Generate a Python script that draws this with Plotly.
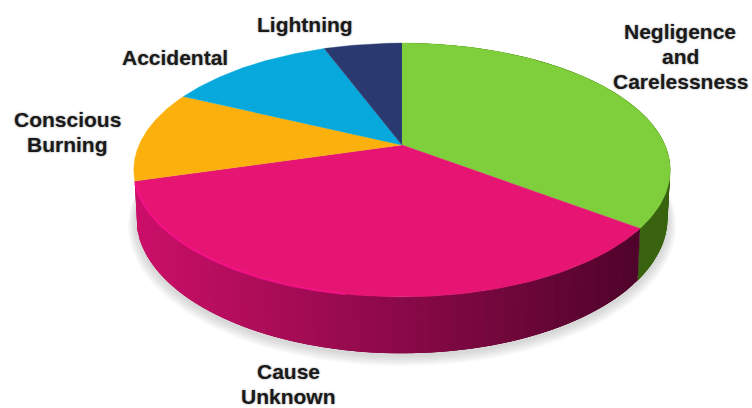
import numpy as np
import plotly.graph_objects as go

categories = ["Negligence<br>and<br>Carelessness", "Cause<br>Unknown", "Conscious<br>Burning", "Accidental", "Lightning"]
values = [35.3, 35.2, 11.6, 12.2, 5.7]
top_colors = ["#7FCF3C", "#E61573", "#FBB00E", "#07A8DC", "#2A3A70"]
# only the first two slices show a side wall
side_left = ["#4A7C1A", "#CC1069"]
side_right = ["#39630F", "#50042B"]
label_x = [680, 288, 67, 175, 305]
label_y = [31, 371, 119, 57, 24]
LINE_GAP = 25

W, H = 752, 408
CX, CY = 402, 145
R, S, K, D = 263, 122, 0.197, 46.5


def ring(theta, depth=0.0, scale=1.0):
    u, v = np.sin(theta), -np.cos(theta)
    w = 1 - K * v
    return CX + R * scale * u / w, CY + (S * scale * v + depth) / w


def hex_rgb(c):
    return np.array([int(c[i:i + 2], 16) for i in (1, 3, 5)], float)


def mix(a, b, t):
    r = hex_rgb(a) * (1 - t) + hex_rgb(b) * t
    return "rgb(%d,%d,%d)" % tuple(r)


fig = go.Figure()


def poly(x, y, color, line=0.0):
    fig.add_trace(go.Scatter(x=x, y=y, mode="lines", fill="toself", fillcolor=color,
                             line=dict(color=color, width=line), hoverinfo="skip", showlegend=False))


# soft ground shadow
full = np.linspace(0, 2 * np.pi, 240)
for i in range(7, 0, -1):
    x, y = ring(full, D + 1.5 + i * 0.7, 0.99 + i * 0.0045)
    poly(x, y, "rgba(120,120,120,0.045)", 0)

# slice boundaries from the values
edges = np.cumsum([0] + values) / sum(values) * 2 * np.pi

# side wall: overlapping strips, each one reaching under the next
for k in range(len(side_left)):
    step = np.radians(2.0)
    n = max(int((edges[k + 1] - edges[k]) / step), 1)
    t = np.linspace(edges[k], edges[k + 1], n + 1)
    for j, (a, b) in enumerate(zip(t[:-1], t[1:])):
        end = edges[k + 1] if j == n - 1 else min(b + 2 * step, edges[k + 1])
        seg = np.linspace(a, end, 6)
        x0, y0 = ring(seg)
        x1, y1 = ring(seg[::-1], D, 0.99)
        xm = ring(np.array([(a + b) / 2]))[0][0]
        frac = float(np.clip((xm - 135) / (640 - 135), 0, 1))
        poly(np.r_[x0, x1], np.r_[y0, y1], mix(side_left[k], side_right[k], frac))

# top face
for k in range(len(values)):
    t = np.linspace(edges[k], edges[k + 1], 120)
    x, y = ring(t)
    poly(np.r_[CX, x], np.r_[CY, y], top_colors[k], 0.4)

# bright rim on the lit front edge
t = np.linspace(edges[2] - 0.02, np.radians(190), 80)
x, y = ring(t)
fig.add_trace(go.Scatter(x=x, y=y, mode="lines", line=dict(color="rgba(250,16,140,0.75)", width=2.2),
                         hoverinfo="skip", showlegend=False))

# labels are placed line by line to keep the reference's tight leading
for name, lx, ly in zip(categories, label_x, label_y):
    for i, part in enumerate(name.split("<br>")):
        fig.add_annotation(x=lx, y=ly + i * LINE_GAP, text=part, showarrow=False,
                           xanchor="center", yanchor="middle", align="center",
                           font=dict(family="Liberation Sans", size=21, color="#1A1A1A", weight="bold",
                                     shadow="0 0 2px rgba(90,90,90,0.7)"))

fig.update_layout(width=W, height=H, margin=dict(l=0, r=0, t=0, b=0),
                  paper_bgcolor="white", plot_bgcolor="white", showlegend=False,
                  xaxis=dict(range=[0, W], visible=False, fixedrange=True),
                  yaxis=dict(range=[H, 0], visible=False, fixedrange=True))
fig.write_html("out.html", config={"displayModeBar": False},
               post_script="document.body.style.margin='0';document.documentElement.style.overflow='hidden';")
